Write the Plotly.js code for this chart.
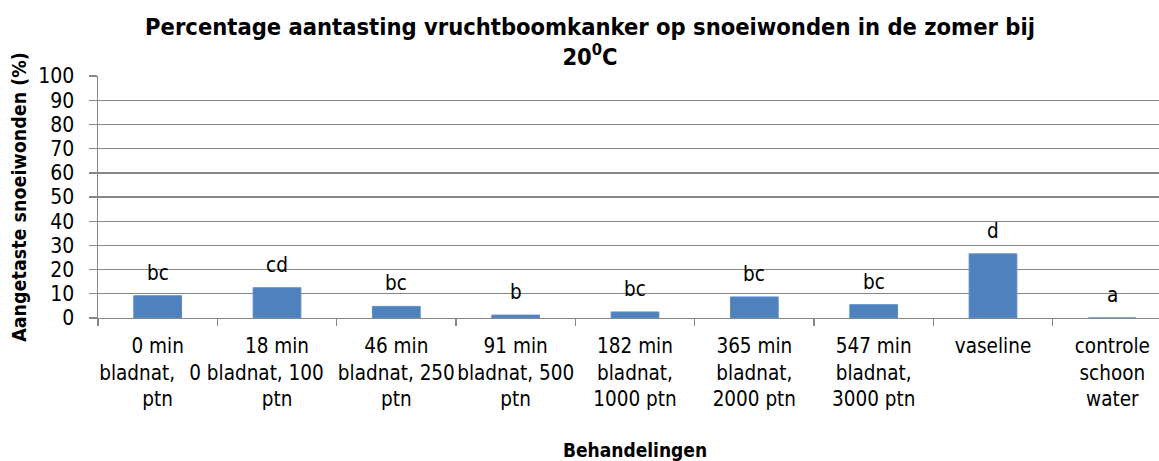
<!DOCTYPE html>
<html>
<head>
<meta charset="utf-8">
<script src="https://cdn.plot.ly/plotly-3.0.1.min.js"></script>
<style>
html,body{margin:0;padding:0;overflow:hidden;background:#fff;}
#chart{width:1180px;height:461px;}
</style>
</head>
<body>
<div id="chart"></div>
<script>
// Data
var categories = ["0 min", "18 min", "46 min", "91 min", "182 min", "365 min", "547 min", "vaseline", "controle"];
var NB = "\u00a0\u00a0\u00a0\u00a0\u00a0\u00a0\u00a0";
var tickLabels = [
  "0 min<br>bladnat," + NB + "<br>ptn",
  "18 min<br>0 bladnat, 100" + NB + "<br>ptn",
  "46 min<br>bladnat, 250<br>ptn",
  "91 min<br>bladnat, 500<br>ptn",
  "182 min<br>bladnat,<br>1000 ptn",
  "365 min<br>bladnat,<br>2000 ptn",
  "547 min<br>bladnat,<br>3000 ptn",
  "vaseline",
  "controle<br>schoon<br>water"
];
var values = [9.2, 12.5, 4.8, 1.2, 2.5, 8.7, 5.5, 26.5, 0];
var letters = ["bc", "cd", "bc", "b", "bc", "bc", "bc", "d", "a"];

var FONT = "'DejaVu Sans Condensed', 'Liberation Sans Narrow', sans-serif";
var GRID = "#878787";

var annotations = categories.map(function (c, i) {
  return {
    x: c, y: values[i], xref: "x", yref: "y",
    text: letters[i], showarrow: false,
    yanchor: "middle", yshift: 23,
    font: {family: FONT, size: 20.5, color: "#000"}
  };
});

var trace = {
  type: "bar",
  x: categories,
  y: values,
  marker: {color: "#4F81BD", line: {color: "#5B8DC9", width: 1}},
  hoverinfo: "x+y"
};

var layout = {
  width: 1180, height: 461,
  margin: {l: 98, r: 8, t: 76, b: 142.5},
  paper_bgcolor: "#fff", plot_bgcolor: "#fff",
  showlegend: false,
  bargap: 0.6,
  font: {family: FONT, color: "#000", size: 20},
  title: {
    text: "<b>Percentage aantasting vruchtboomkanker op snoeiwonden in de zomer bij<br>20<sup>0</sup>C</b>",
    x: 0.5, xref: "container", xanchor: "center",
    y: 0.925, yref: "container", yanchor: "top",
    font: {family: FONT, size: 23.5, color: "#000"}
  },
  xaxis: {
    type: "category",
    range: [-0.5, 8.5],
    tickvals: categories,
    ticktext: tickLabels,
    tickson: "boundaries",
    ticks: "outside", ticklen: 7, tickcolor: GRID, tickwidth: 1.4,
    ticklabelstandoff: 9,
    showline: true, linecolor: GRID, linewidth: 1.4,
    showgrid: false,
    tickfont: {family: FONT, size: 20.5, color: "#000"},
    tickangle: 0,
    automargin: false,
    title: {text: "<b>Behandelingen</b>", standoff: 34, font: {family: FONT, size: 19, color: "#000"}}
  },
  yaxis: {
    range: [0, 100],
    dtick: 10,
    ticks: "outside", ticklen: 8, tickcolor: GRID, tickwidth: 1.4,
    ticklabelstandoff: 10,
    showline: true, linecolor: GRID, linewidth: 1.4,
    showgrid: true, gridcolor: GRID, gridwidth: 1.4,
    zeroline: false,
    tickfont: {family: FONT, size: 21, color: "#000"},
    automargin: false,
    title: {text: "<b>Aangetaste snoeiwonden (%)</b>", standoff: 6, font: {family: FONT, size: 19.5, color: "#000"}}
  },
  annotations: annotations
};

Plotly.newPlot("chart", [trace], layout, {displayModeBar: false, staticPlot: true});
</script>
</body>
</html>
